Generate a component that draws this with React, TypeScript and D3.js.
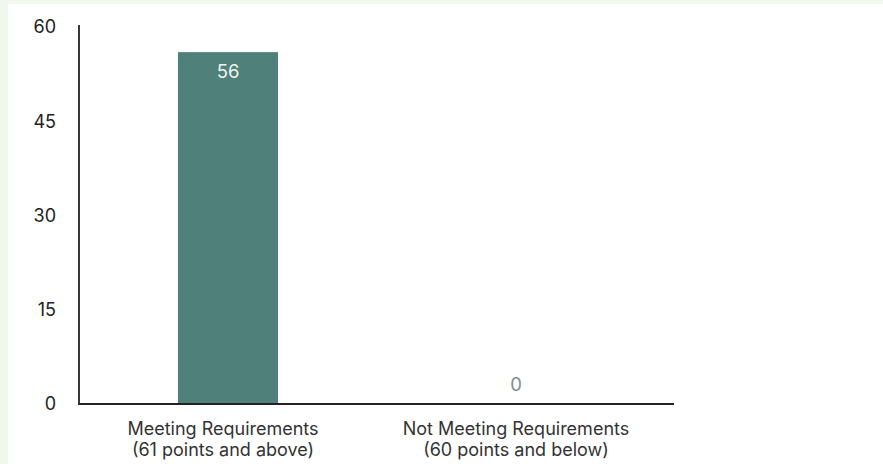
import React from "react";
import * as d3 from "d3";

const categories: string[][] = [
  ["Meeting Requirements", "(61 points and above)"],
  ["Not Meeting Requirements", "(60 points and below)"],
];
const values: number[] = [56, 0];
const yTicks: number[] = [0, 15, 30, 45, 60];

const W = 883;
const H = 464;
const FONT = "Inter, 'Liberation Sans', Arial, sans-serif";

export default function App() {
  const axisLeft = 79;
  const axisRight = 674;
  const axisBottom = 404;
  const axisTop = 25;

  const x = d3
    .scaleBand<number>()
    .domain(d3.range(categories.length))
    .range([84, 660]);
  const y = d3.scaleLinear().domain([0, 60]).range([axisBottom, 27]);
  const barW = 100;

  return (
    <svg
      width={W}
      height={H}
      style={{ position: "absolute", left: 0, top: 0, display: "block" }}
      fontFamily={FONT}
    >
      <rect x={0} y={0} width={W} height={H} fill="#f0f7ec" />
      <rect x={8} y={4} width={W - 8} height={H - 4} fill="#ffffff" />

      {/* bars */}
      {values.map((v, i) => {
        const cx = (x(i) as number) + x.bandwidth() / 2;
        const top = y(v);
        return (
          <g key={i}>
            {v > 0 && (
              <rect
                x={cx - barW / 2}
                y={top}
                width={barW}
                height={axisBottom - top}
                fill="#4f8079"
              />
            )}
            <text
              x={cx}
              y={v > 0 ? top + 26 : top - 13}
              textAnchor="middle"
              fontSize={18.5}
              fill={v > 0 ? "#eef4f2" : "#888888"}
            >
              {v}
            </text>
          </g>
        );
      })}

      {/* y axis */}
      <line x1={axisLeft} x2={axisLeft} y1={axisTop} y2={axisBottom + 1} stroke="#222" strokeWidth={1.8} />
      {yTicks.map((t) => (
        <text
          key={t}
          x={56}
          y={y(t)}
          dy="0.35em"
          textAnchor="end"
          fontSize={18}
          fill="#222"
        >
          {t}
        </text>
      ))}

      {/* x axis */}
      <line x1={axisLeft} x2={axisRight} y1={axisBottom} y2={axisBottom} stroke="#222" strokeWidth={1.8} />
      {categories.map((lines, i) => {
        const cx = (x(i) as number) + x.bandwidth() / 2 - (i === 0 ? 5 : 0);
        return (
          <text key={i} x={cx} textAnchor="middle" fontSize={18} fill="#333">
            {lines.map((ln, j) => (
              <tspan key={j} x={cx} y={435 + j * 21}>
                {ln}
              </tspan>
            ))}
          </text>
        );
      })}
    </svg>
  );
}
